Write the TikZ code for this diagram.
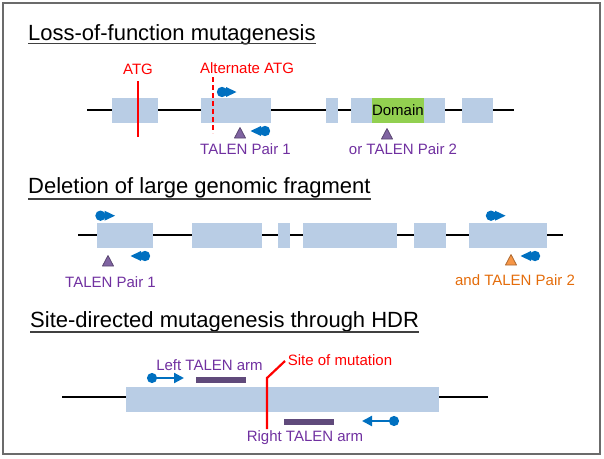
\documentclass[tikz,border=0pt]{standalone}
\usepackage{fontspec}
\setmainfont{Liberation Sans}
\usetikzlibrary{arrows.meta,calc}
\definecolor{exonc}{HTML}{B9CDE5}
\definecolor{domc}{HTML}{92D050}
\definecolor{talc}{HTML}{0070C0}
\definecolor{purt}{HTML}{7030A0}
\definecolor{purtri}{HTML}{8064A2}
\definecolor{purbar}{HTML}{604A7B}
\definecolor{orc}{HTML}{E46C0A}
\definecolor{ortri}{HTML}{F79646}
\definecolor{redc}{HTML}{FF0000}
\definecolor{framec}{HTML}{6B6B6B}
\begin{document}
\begin{tikzpicture}[x=1pt,y=-1pt,
  exon/.style={fill=exonc,draw=none,inner sep=0,minimum height=25},
  dombox/.style={fill=domc,draw=none,inner sep=0,minimum height=25,font=\fontsize{15}{18}\selectfont},
  gline/.style={line width=2.5pt,black},
  redline/.style={line width=2.5pt,redc},
  ttl/.style={font=\fontsize{22}{26}\selectfont,inner sep=0,anchor=base west},
  uline/.style={line width=1.3pt,black!75},
  lab/.style={font=\fontsize{15}{18}\selectfont,inner sep=0},
  armbar/.style={fill=purbar,draw=none,inner sep=0,minimum height=6,minimum width=50},
  talarrow/.style={talc,line width=2.2pt,{Circle[length=10pt]}-{Triangle[length=10pt,width=10pt]}},
  pics/fwd/.style={code={
    \fill[talc] (0,0) circle (5.2);
    \fill[talc] (4,-5) -- (14.5,0) -- (4,5) -- cycle;}},
  pics/rev/.style={code={
    \fill[talc] (0,0) circle (5.2);
    \fill[talc] (-4,-5) -- (-14.5,0) -- (-4,5) -- cycle;}},
  pics/cut/.style={code={
    \filldraw[fill=#1,draw=#1!70!black,line width=0.8pt,line join=round] (-5.5,5) -- (0,-5.5) -- (5.5,5) -- cycle;}}
]
\useasboundingbox (0,0) rectangle (604,458);
\draw[framec,line width=1.3pt] (3,3) rectangle (600,454);

% ---------------- Section 1 ----------------
\node[ttl] (t1) at (28,40) {Loss-of-function mutagenesis};
\draw[uline] ($(t1.base west)+(0,3.5)$) -- ($(t1.base east)+(0,3.5)$);

\coordinate (l1s) at (87,110);
\coordinate (l1e) at (514,110);
\draw[gline] (l1s) -- (l1e);
\node[exon,minimum width=46.5] (a1) at (134.75,110.5) {};
\node[exon,minimum width=70] (a2) at (235.7,110.5) {};
\node[exon,minimum width=12] (a3) at (331.7,110.5) {};
\node[exon,minimum width=94] (a4) at (398,110.5) {};
\node[dombox,minimum width=47.7] (dom) at (397.9,110.5) {Domain};
\node[exon,minimum width=31] (a5) at (477.2,110.5) {};

\coordinate (atgt) at (138,81);
\coordinate (atgb) at (138,137);
\draw[redline] (atgt) -- (atgb);
\node[lab,text=redc] (atg) at (138,69) {ATG};
\coordinate (altt) at (213,77);
\coordinate (altb) at (213,133);
\draw[redline,dash pattern=on 5pt off 3pt] (altt) -- (altb);
\node[lab,text=redc] (alt) at (247,68) {Alternate ATG};

\pic at (222,92) {fwd};
\pic at (265,131) {rev};
\pic at (240,133) {cut=purtri};
\node[lab,text=purt] (p1) at (245.5,149) {TALEN Pair 1};
\pic at (387,134) {cut=purtri};
\node[lab,text=purt] (p2) at (403,149) {or TALEN Pair 2};

% ---------------- Section 2 ----------------
\node[ttl] (t2) at (28,193.5) {Deletion of large genomic fragment};
\draw[uline] ($(t2.base west)+(0,5.5)$) -- ($(t2.base east)+(0,5.5)$);

\coordinate (l2s) at (78,235);
\coordinate (l2e) at (563,235);
\draw[gline] (l2s) -- (l2e);
\node[exon,minimum width=56] (b1) at (124.7,235.5) {};
\node[exon,minimum width=69.7] (b2) at (226.85,235.5) {};
\node[exon,minimum width=12] (b3) at (284,235.5) {};
\node[exon,minimum width=93.7] (b4) at (349.85,235.5) {};
\node[exon,minimum width=31.7] (b5) at (429.85,235.5) {};
\node[exon,minimum width=77.7] (b6) at (507.85,235.5) {};

\pic at (100.5,215.7) {fwd};
\pic at (145,256) {rev};
\pic at (108,261) {cut=purtri};
\node[lab,text=purt] (q1) at (110.5,282) {TALEN Pair 1};
\pic at (491,215.7) {fwd};
\pic at (535,256) {rev};
\pic at (511,260) {cut=ortri};
\node[lab,text=orc] (q2) at (515,280) {and TALEN Pair 2};

% ---------------- Section 3 ----------------
\node[ttl] (t3) at (30,327) {Site-directed mutagenesis through HDR};
\draw[uline] ($(t3.base west)+(0,5)$) -- ($(t3.base east)+(0,5)$);

\coordinate (l3s) at (62,397);
\coordinate (l3e) at (488,397);
\draw[gline] (l3s) -- (l3e);
\node[exon,minimum width=313] (c1) at (282.5,399) {};

\node[armbar] (larm) at (221,380) {};
\node[armbar] (rarm) at (309,422) {};
\coordinate (la0) at (147,378);
\coordinate (la1) at (184,378);
\draw[talarrow] (la0) -- (la1);
\coordinate (ra0) at (399,421);
\coordinate (ra1) at (362,421);
\draw[talarrow] (ra0) -- (ra1);
\node[lab,text=purt] (ltl) at (209.5,365) {Left TALEN arm};
\node[lab,text=purt] (rtl) at (305,438) {Right TALEN arm};

\coordinate (m0) at (267,429);
\coordinate (m1) at (267,378);
\coordinate (m2) at (285,361);
\draw[redline,line width=2.2pt] (m0) -- (m1) -- (m2);
\node[lab,text=redc] (som) at (340,360) {Site of mutation};
\end{tikzpicture}
\end{document}
